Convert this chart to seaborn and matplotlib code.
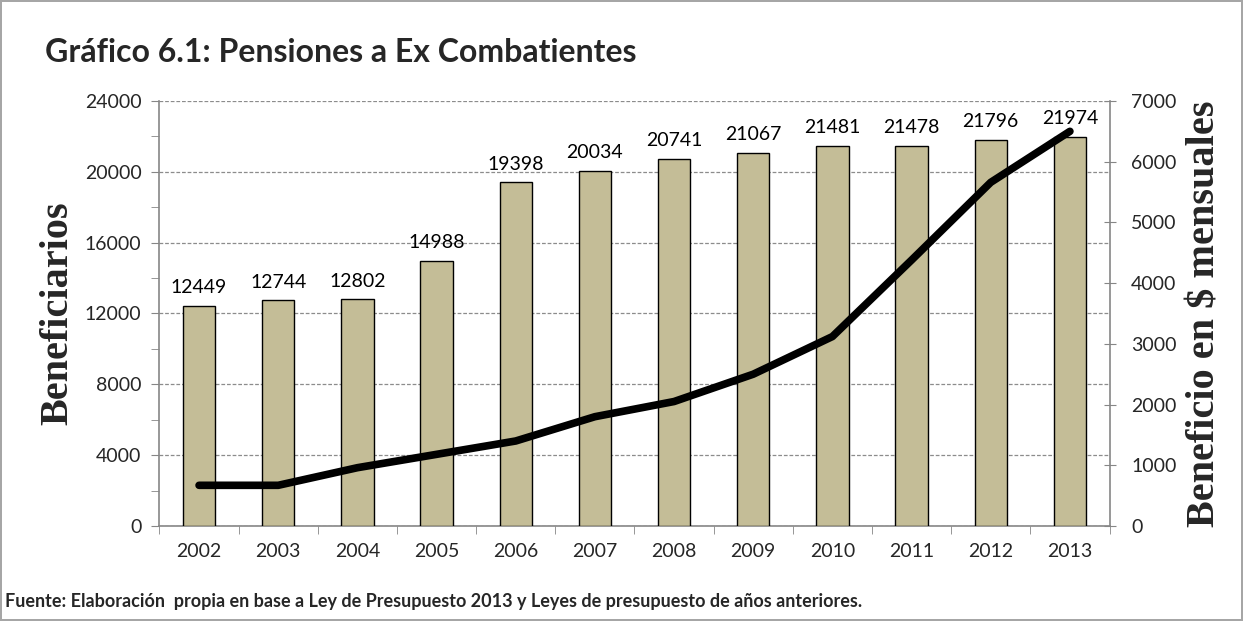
import numpy as np
import pandas as pd
import matplotlib
matplotlib.use("Agg")
import matplotlib.pyplot as plt
from matplotlib.ticker import MultipleLocator, FixedLocator
import seaborn as sns

# Datos
years = ["2002", "2003", "2004", "2005", "2006", "2007",
         "2008", "2009", "2010", "2011", "2012", "2013"]
beneficiarios = [12449, 12744, 12802, 14988, 19398, 20034,
                 20741, 21067, 21481, 21478, 21796, 21974]
beneficio_mensual = [670, 670, 960, 1180, 1400, 1800,
                     2050, 2500, 3120, 4380, 5660, 6500]

BAR_COLOR = "#C4BD97"
AXIS_GREY = "#868686"
SANS = ["Lato", "DejaVu Sans"]
SERIF = ["Liberation Serif", "DejaVu Serif"]


def draw_figure(df):
    sns.set_style("white")
    plt.rcParams["font.family"] = SANS

    fig = plt.figure(figsize=(12.43, 6.21), dpi=100)
    fig.patch.set_edgecolor("#A6A6A6")
    fig.patch.set_linewidth(1.5)
    ax = fig.add_axes([0.1283, 0.153, 0.7643, 0.6844])

    sns.barplot(data=df, x="year", y="beneficiarios", color=BAR_COLOR,
                edgecolor="black", linewidth=1.0, width=0.41, saturation=1,
                ax=ax, zorder=3)
    for cont in ax.containers:
        ax.bar_label(cont, labels=[str(v) for v in df["beneficiarios"]],
                     padding=7, fontsize=14, color="black")

    ax.set_ylim(0, 24000)
    ax.set_xlim(-0.5, len(years) - 0.5)
    ax.yaxis.set_major_locator(MultipleLocator(4000))
    ax.yaxis.set_minor_locator(MultipleLocator(2000))
    ax.grid(axis="y", which="major", linestyle=(0, (3, 1.5)), color="#8C8C8C",
            linewidth=0.9, zorder=0)
    ax.set_axisbelow(True)
    ax.tick_params(axis="y", which="both", direction="out", length=6,
                   color=AXIS_GREY, labelsize=14, pad=7, left=True)
    ax.tick_params(axis="x", which="major", length=0, labelsize=14, pad=12)
    ax.xaxis.set_minor_locator(FixedLocator(np.arange(-0.5, len(years), 1.0)))
    ax.tick_params(axis="x", which="minor", direction="out", length=6,
                   color=AXIS_GREY, bottom=True)
    for side in ["left", "bottom"]:
        ax.spines[side].set_color(AXIS_GREY)
        ax.spines[side].set_linewidth(1.2)
    ax.spines["top"].set_visible(False)
    ax.spines["right"].set_visible(False)
    ax.set_xlabel("")
    ax.set_ylabel("Beneficiarios", family=SERIF, fontweight="bold",
                  fontsize=29, labelpad=6)

    ax2 = ax.twinx()
    sns.lineplot(x=np.arange(len(years)), y=df["beneficio"].values, ax=ax2,
                 color="black", linewidth=5.5, solid_capstyle="round",
                 solid_joinstyle="round", zorder=4)
    ax2.set_ylim(0, 7000)
    ax2.yaxis.set_major_locator(MultipleLocator(1000))
    ax2.tick_params(axis="y", direction="inout", length=9, color=AXIS_GREY,
                    labelsize=14, pad=11, right=True)
    ax2.grid(False)
    for side in ["left", "bottom", "top"]:
        ax2.spines[side].set_visible(False)
    ax2.spines["right"].set_color(AXIS_GREY)
    ax2.spines["right"].set_linewidth(1.2)
    ax2.set_ylabel("Beneficio en $ mensuales", family=SERIF,
                   fontweight="bold", fontsize=29, labelpad=7)

    fig.text(0.036, 0.915, "Gráfico 6.1: Pensiones a Ex Combatientes",
             fontsize=23, fontweight="bold", va="center", ha="left")
    fig.text(0.004, 0.031,
             "Fuente: Elaboración  propia en base a Ley de Presupuesto 2013 y "
             "Leyes de presupuesto de años anteriores.",
             fontsize=13, fontweight="bold", va="center", ha="left")

    fig.savefig("out.png", dpi=100, edgecolor=fig.get_edgecolor())


def main():
    df = pd.DataFrame({"year": years,
                       "beneficiarios": beneficiarios,
                       "beneficio": beneficio_mensual})
    draw_figure(df)


if __name__ == "__main__":
    main()
